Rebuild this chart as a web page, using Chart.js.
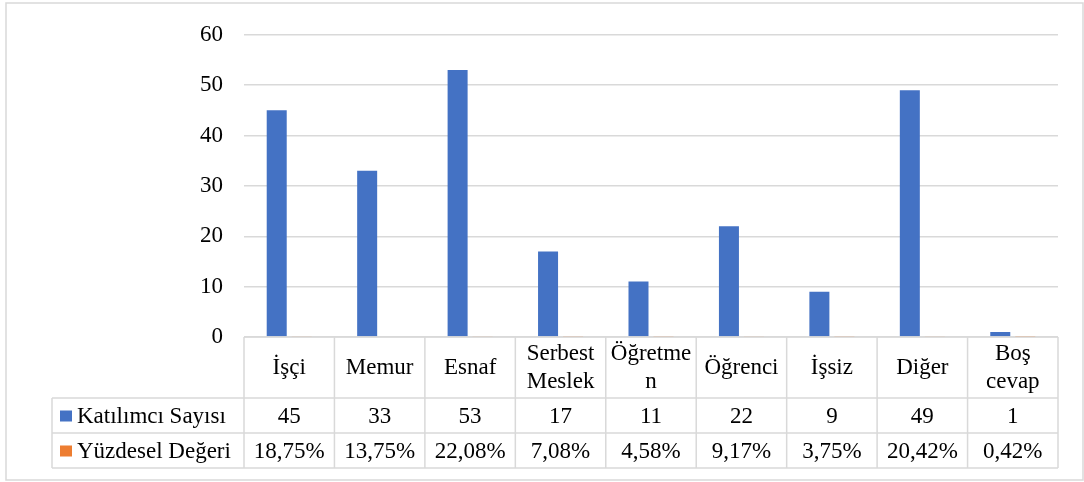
<!DOCTYPE html>
<html>
<head>
<meta charset="utf-8">
<script src="https://cdn.jsdelivr.net/npm/chart.js@4"></script>
<style>
  body { margin: 0; background: #fff; }
  #wrap { width: 1084px; height: 482px; position: relative; }
</style>
</head>
<body>
<div id="wrap"><canvas id="chart" width="1084" height="482"></canvas></div>
<script>
// data
const categories = [["İşçi"], ["Memur"], ["Esnaf"], ["Serbest", "Meslek"], ["Öğretme", "n"], ["Öğrenci"], ["İşsiz"], ["Diğer"], ["Boş", "cevap"]];
const counts = [45, 33, 53, 17, 11, 22, 9, 49, 1];
const percents = [18.75, 13.75, 22.08, 7.08, 4.58, 9.17, 3.75, 20.42, 0.42];
const seriesNames = ["Katılımcı Sayısı", "Yüzdesel Değeri"];
const yTicks = [0, 10, 20, 30, 40, 50, 60];

const blue = "#4472C4";
const orange = "#ED7D31";
const lineCol = "#d9d9d9";
const family = "'Liberation Serif', 'Times New Roman', serif";
const font = "23px " + family;

function pct(v) {
  return v.toFixed(2).replace(".", ",") + "%";
}

// draws the data table under the plot (Excel style)
const tablePlugin = {
  id: "dataTable",
  beforeDraw(chart) {
    const ctx = chart.ctx;
    ctx.save();
    ctx.strokeStyle = lineCol;
    ctx.lineWidth = 1.5;
    ctx.strokeRect(6, 3, 1077, 477);
    ctx.restore();
  },
  afterDraw(chart) {
    const ctx = chart.ctx;
    const x = chart.scales.x;
    const area = chart.chartArea;
    const n = categories.length;
    const colW = (area.right - area.left) / n;
    const top = area.bottom;
    const r1 = top + 61, r2 = r1 + 35, r3 = r2 + 35;
    const tableLeft = 52;

    ctx.save();
    ctx.strokeStyle = lineCol;
    ctx.lineWidth = 1.5;
    ctx.beginPath();
    // horizontal lines
    ctx.moveTo(area.left, top); ctx.lineTo(area.right, top);
    ctx.moveTo(tableLeft, r1); ctx.lineTo(area.right, r1);
    ctx.moveTo(tableLeft, r2); ctx.lineTo(area.right, r2);
    ctx.moveTo(tableLeft, r3); ctx.lineTo(area.right, r3);
    // vertical lines
    ctx.moveTo(tableLeft, r1); ctx.lineTo(tableLeft, r3);
    for (let i = 0; i <= n; i++) {
      const lx = area.left + i * colW;
      ctx.moveTo(lx, top); ctx.lineTo(lx, r3);
    }
    ctx.stroke();

    ctx.fillStyle = "#000";
    ctx.font = font;
    ctx.textAlign = "center";
    ctx.textBaseline = "middle";
    for (let i = 0; i < n; i++) {
      const cx = x.getPixelForValue(i);
      const lines = categories[i];
      const mid = (top + r1) / 2;
      const lh = 28;
      lines.forEach((t, k) => {
        ctx.fillText(t, cx, mid + (k - (lines.length - 1) / 2) * lh);
      });
      ctx.fillText(String(counts[i]), cx, (r1 + r2) / 2 + 1);
      ctx.fillText(pct(percents[i]), cx, (r2 + r3) / 2 + 1);
    }

    // legend keys in the row headers
    ctx.textAlign = "left";
    ctx.fillStyle = blue;
    ctx.fillRect(60, (r1 + r2) / 2 - 5, 12, 11);
    ctx.fillStyle = orange;
    ctx.fillRect(60, (r2 + r3) / 2 - 5, 12, 11);
    ctx.fillStyle = "#000";
    ctx.fillText(seriesNames[0], 77, (r1 + r2) / 2 + 1);
    ctx.fillText(seriesNames[1], 77, (r2 + r3) / 2 + 1);
    ctx.restore();
  }
};

const data = {
  labels: categories,
  datasets: [
    {
      label: seriesNames[0],
      data: counts,
      backgroundColor: blue,
      barPercentage: 0.8,
      categoryPercentage: 0.553,
    },
    {
      label: seriesNames[1],
      data: percents.map((p) => p / 100),
      backgroundColor: orange,
      barPercentage: 0.8,
      categoryPercentage: 0.553,
    },
  ],
};

const config = {
  type: "bar",
  data: data,
  options: {
    responsive: false,
    animation: false,
    layout: { padding: { left: 0, right: 26, top: 32, bottom: 145 } },
    plugins: {
      legend: { display: false },
      tooltip: { enabled: false },
    },
    scales: {
      x: { display: false },
      y: {
        min: yTicks[0],
        max: yTicks[yTicks.length - 1],
        afterFit: (scale) => { scale.width = 244; },
        afterBuildTicks: (scale) => {
          scale.ticks = yTicks.map((v) => ({ value: v }));
        },
        border: { display: false },
        grid: { color: lineCol, lineWidth: 1.5, drawTicks: false },
        ticks: {
          padding: 21,
          color: "#000",
          font: { family: family, size: 23 },
        },
      },
    },
  },
  plugins: [tablePlugin],
};

new Chart(document.getElementById("chart"), config);
</script>
</body>
</html>
